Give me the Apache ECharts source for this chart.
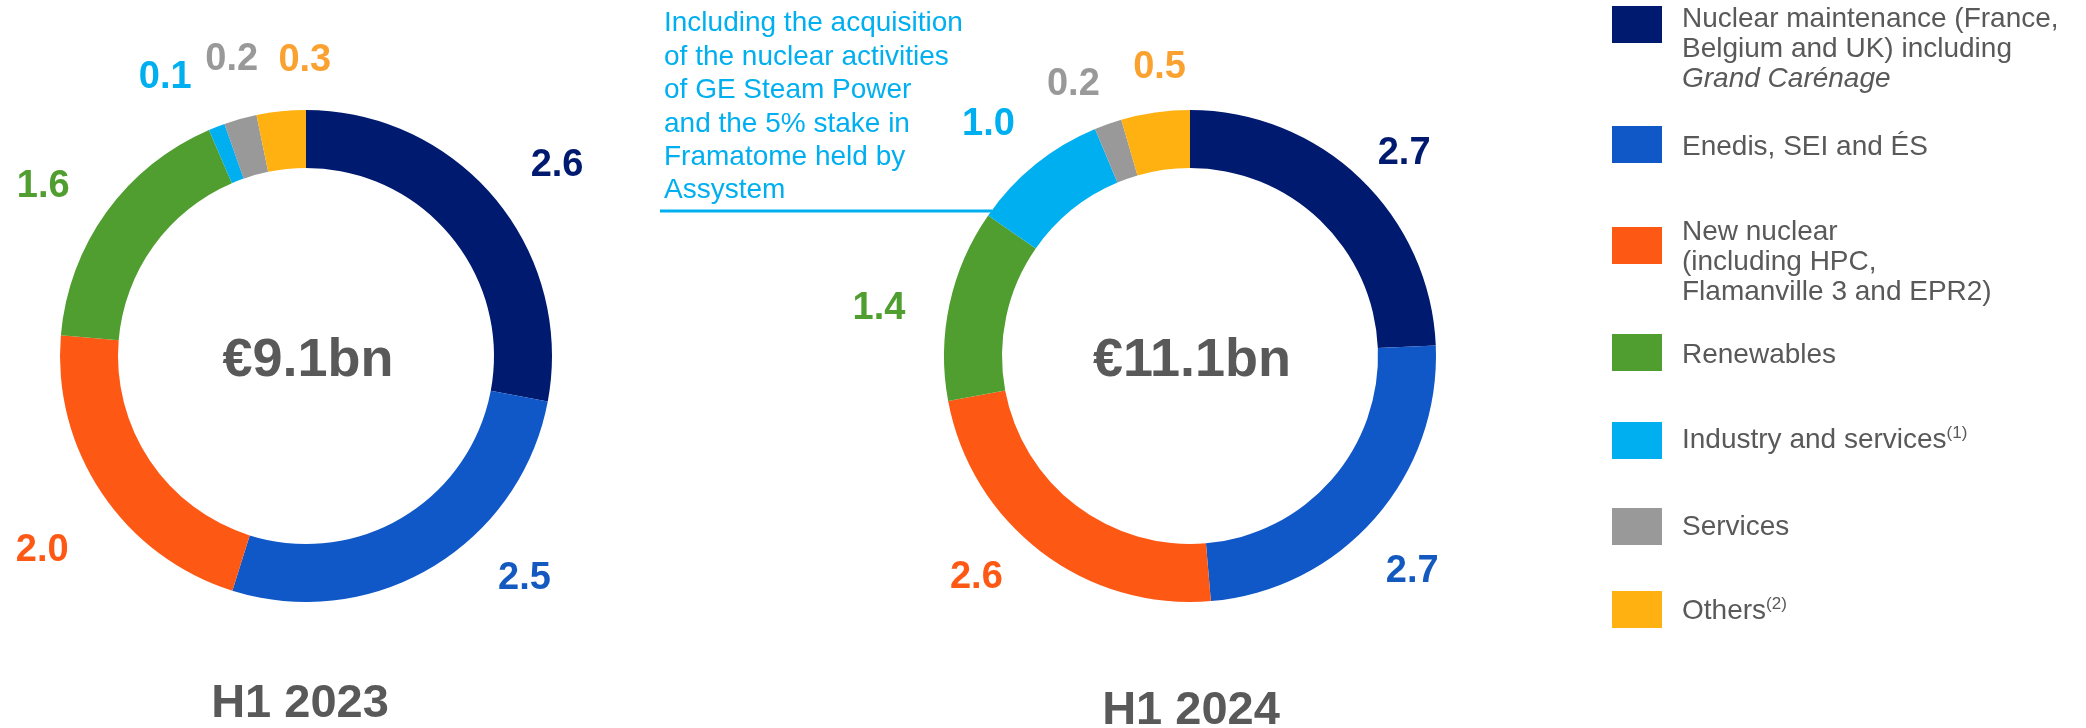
<!DOCTYPE html>
<html><head><meta charset="utf-8">
<script src="https://cdn.jsdelivr.net/npm/echarts@6/dist/echarts.min.js"></script>
<style>html,body{margin:0;padding:0;background:#fff}#c{width:2086px;height:728px}</style>
</head><body><div id="c"></div>
<script>
// ---- data ----
const categories = [
  'Nuclear maintenance (France, Belgium and UK) including Grand Carénage',
  'Enedis, SEI and ÉS',
  'New nuclear (including HPC, Flamanville 3 and EPR2)',
  'Renewables',
  'Industry and services(1)',
  'Services',
  'Others(2)'
];
const values2023 = [2.6, 2.5, 2.0, 1.6, 0.1, 0.2, 0.3];
const values2024 = [2.7, 2.7, 2.6, 1.4, 1.0, 0.2, 0.5];
const periods = ['H1 2023', 'H1 2024'];
const totals = ['€9.1bn', '€11.1bn'];
const annotationLines = ['Including the acquisition', 'of the nuclear activities', 'of GE Steam Power',
  'and the 5% stake in', 'Framatome held by', 'Assystem'];
const legendTexts = [
  '{n|Nuclear maintenance (France,}\n{n|Belgium and UK) including}\n{i|Grand Carénage}',
  '{n|Enedis, SEI and ÉS}',
  '{n|New nuclear}\n{n|(including HPC,}\n{n|Flamanville 3 and EPR2)}',
  '{n|Renewables}',
  '{n|Industry and services}{s|(1)}',
  '{n|Services}',
  '{n|Others}{s|(2)}'
];

// ---- styles / layout ----
const FONT = '"Liberation Sans", Arial, sans-serif';
const GREY = '#595959';
const sliceColors = ['#001A70', '#1057C8', '#FE5815', '#509E2F', '#00AFEF', '#999999', '#FEB111'];
const labelColors = ['#001A70', '#1359C0', '#FE5815', '#509E2F', '#00AFEF', '#999999', '#FBA130'];
const centers = [[306, 356], [1190, 356]];
const ringRadius = [188, 246];
const labelRing = [272, 338];
const labelNudges = [
  [[14, 6], [60, -42], [-8, 23], [-13, 11], [-29, 8], [8, 0], [30, 11]],
  [[1, 20], [-9, 12], [-27, -23], [-10, 17], [-8, 8], [-14, 19], [13, 16]]
];
const totalY = 361;
const periodY = [704, 711];
const legendSquareTop = [6, 126, 227, 334, 422, 508, 591];
const legendFirstLine = [19, 147, 232, 355, 440, 527, 611];

const yearValues = [values2023, values2024];
const series = [];
yearValues.forEach((vals, k) => {
  series.push({
    type: 'pie', center: centers[k], radius: ringRadius, startAngle: 90, clockwise: true,
    silent: true, animation: false, avoidLabelOverlap: false,
    label: { show: false }, labelLine: { show: false },
    itemStyle: { borderWidth: 0 },
    data: vals.map((v, i) => ({ name: categories[i], value: v, itemStyle: { color: sliceColors[i] } }))
  });
  series.push({
    type: 'pie', center: centers[k], radius: labelRing, startAngle: 90, clockwise: true,
    silent: true, animation: false, avoidLabelOverlap: false,
    itemStyle: { color: 'rgba(0,0,0,0)' },
    labelLine: { show: false },
    label: {
      show: true, position: 'inside', fontSize: 38, fontWeight: 'bold', fontFamily: FONT,
      formatter: p => p.value.toFixed(1)
    },
    labelLayout: p => ({ dx: labelNudges[k][p.dataIndex][0], dy: labelNudges[k][p.dataIndex][1] }),
    data: vals.map((v, i) => ({ name: categories[i], value: v, label: { color: labelColors[i] } }))
  });
});

const graphic = [];
// totals & periods
centers.forEach((c, k) => {
  graphic.push({ type: 'text', silent: true, style: { text: totals[k], x: c[0] + 2, y: totalY, align: 'center', verticalAlign: 'middle',
    fontSize: 54, fontWeight: 'bold', fontFamily: FONT, fill: GREY } });
  graphic.push({ type: 'text', silent: true, style: { text: periods[k], x: c[0] - 6 + k * 7, y: periodY[k], align: 'center', verticalAlign: 'middle',
    fontSize: 47, fontWeight: 'bold', fontFamily: FONT, fill: GREY } });
});
// annotation
graphic.push({ type: 'text', silent: true, style: { text: annotationLines.join('\n'), x: 664, y: 7, align: 'left', verticalAlign: 'top',
  fontSize: 28, lineHeight: 33.4, fontFamily: FONT, fill: '#00AFEF' } });
graphic.push({ type: 'line', silent: true, shape: { x1: 660, y1: 211, x2: 992, y2: 211 }, style: { stroke: '#00AFEF', lineWidth: 3 } });
// legend
legendTexts.forEach((t, i) => {
  graphic.push({ type: 'rect', silent: true, shape: { x: 1612, y: legendSquareTop[i], width: 50, height: 37 }, style: { fill: sliceColors[i] } });
  graphic.push({ type: 'text', silent: true, style: { text: t, x: 1682, y: legendFirstLine[i] - 15, align: 'left', verticalAlign: 'top',
    fontSize: 28, lineHeight: 30, fontFamily: FONT, fill: GREY,
    rich: {
      n: { fontSize: 28, lineHeight: 30, fontFamily: FONT, fill: GREY },
      i: { fontSize: 28, lineHeight: 30, fontFamily: FONT, fill: GREY, fontStyle: 'italic' },
      s: { fontSize: 17, lineHeight: 30, fontFamily: FONT, fill: GREY, verticalAlign: 'top' }
    } } });
});

const chart = echarts.init(document.getElementById('c'), null, { renderer: 'canvas' });
chart.setOption({ backgroundColor: '#ffffff', animation: false, series, graphic });
</script></body></html>
